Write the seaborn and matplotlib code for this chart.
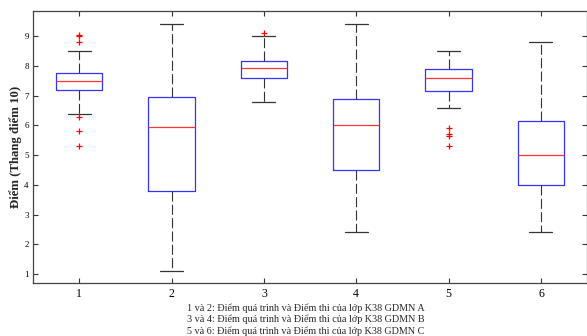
import pandas as pd
import numpy as np
import seaborn as sns
import matplotlib.pyplot as plt

# Scores (quartiles, whisker ends and outliers fixed,
# the rest only fills the boxes)
group_labels = ["1", "2", "3", "4", "5", "6"]
scores_1 = [5.3, 5.8, 6.3, 6.4, 7.2, 7.3, 7.4, 7.5, 7.5, 7.5, 7.6, 7.7, 7.75, 8.5, 8.8, 9.0, 9.05]
scores_2 = [1.1, 2.5, 3.0, 3.5, 3.8, 4.5, 5.0, 5.5, 5.95, 6.2, 6.5, 6.8, 6.95, 7.5, 8.0, 8.8, 9.4]
scores_3 = [6.8, 7.2, 7.4, 7.5, 7.6, 7.7, 7.8, 7.9, 7.95, 8.0, 8.05, 8.1, 8.18, 8.4, 8.6, 9.0, 9.12]
scores_4 = [2.4, 3.0, 3.5, 4.0, 4.5, 5.0, 5.3, 5.7, 6.0, 6.2, 6.5, 6.7, 6.9, 7.5, 8.0, 8.8, 9.4]
scores_5 = [5.3, 5.65, 5.7, 5.9, 6.6, 7.17, 7.2, 7.3, 7.4, 7.5, 7.6, 7.6, 7.7, 7.8, 7.85, 7.9,
            8.0, 8.1, 8.2, 8.4, 8.5]
scores_6 = [2.4, 3.0, 3.3, 3.7, 4.0, 4.3, 4.6, 4.8, 5.0, 5.3, 5.6, 5.9, 6.15, 6.8, 7.5, 8.2, 8.8]

y_ticks = [1, 2, 3, 4, 5, 6, 7, 8, 9]
y_label = "Điểm (Thang điểm 10)"
note_lines = [
    "1 và 2: Điểm quá trình và Điểm thi của lớp K38 GDMN A",
    "3 và 4: Điểm quá trình và Điểm thi của lớp K38 GDMN B",
    "5 và 6: Điểm quá trình và Điểm thi của lớp K38 GDMN C",
]

all_scores = [scores_1, scores_2, scores_3, scores_4, scores_5, scores_6]
df = pd.DataFrame({
    "group": np.repeat(group_labels, [len(s) for s in all_scores]),
    "score": np.concatenate(all_scores),
})

sns.set_style("ticks")
plt.rcParams["font.family"] = ["Liberation Serif", "DejaVu Serif"]

fig = plt.figure(figsize=(5.87, 3.36), dpi=100)
ax = fig.add_axes([0.0562, 0.158, 0.944, 0.809])

sns.boxplot(
    data=df, x="group", y="score", order=group_labels, ax=ax,
    width=0.5, fill=False, whis=1.5,
    boxprops=dict(color="#3333ff", linewidth=0.9),
    medianprops=dict(color="#ff3333", linewidth=0.9),
    whiskerprops=dict(color="#333333", linewidth=0.8, linestyle=(0, (9, 3))),
    capprops=dict(color="#333333", linewidth=0.9),
    flierprops=dict(marker="+", markeredgecolor="red", markerfacecolor="none",
                    markersize=5, markeredgewidth=0.9),
)

ax.set_xlim(-0.5, 5.5)
ax.set_ylim(0.7, 9.85)
ax.set_yticks(y_ticks)
ax.set_xlabel("")
ax.set_ylabel(y_label, fontsize=9.2, fontweight="bold", labelpad=2)
ax.tick_params(axis="y", labelsize=6.5, direction="in", length=3.5, width=0.8,
               right=True, colors="#333333", labelcolor="black", pad=3)
ax.tick_params(axis="x", labelsize=8.5, direction="in", length=3.5, width=0.8,
               top=True, colors="#333333", labelcolor="black", pad=4)
for side in ["left", "right", "top", "bottom"]:
    ax.spines[side].set_visible(True)
    ax.spines[side].set_color("#444444")
    ax.spines[side].set_linewidth(0.9)

fig.text(0.5205, 0.098, "\n".join(note_lines), ha="center", va="top",
         fontsize=7.3, linespacing=1.25)

plt.savefig("out.png", dpi=100)
